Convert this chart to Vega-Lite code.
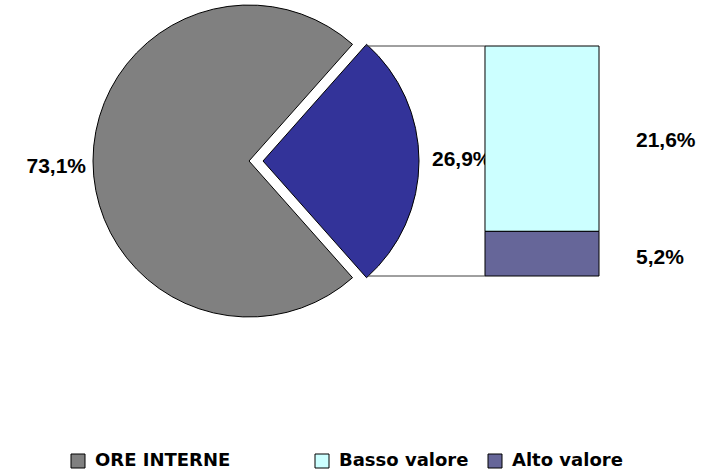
{
  "$schema": "https://vega.github.io/schema/vega-lite/v6.json",
  "width": 407,
  "height": 230,
  "autosize": {"type": "none"},
  "padding": {"left": 192, "top": 46, "right": 110, "bottom": 197},
  "background": "white",
  "config": {
    "view": {"stroke": null},
    "legend": {
      "padding": 0,
      "symbolType": "square",
      "symbolSize": 196,
      "symbolStrokeColor": "black",
      "symbolStrokeWidth": 1,
      "labelFont": "DejaVu Sans",
      "labelFontSize": 18,
      "labelFontWeight": "bold",
      "labelColor": "black",
      "labelOffset": 8,
      "labelLimit": 300
    }
  },
  "data": {
    "values": [
      {"group": "pie", "category": "ORE INTERNE", "value": 73.1, "label": "73,1%", "order": 2},
      {"group": "pie", "category": "Altro", "value": 26.9, "label": "26,9%", "order": 1},
      {"group": "bar", "category": "Basso valore", "value": 21.6, "label": "21,6%", "order": 2},
      {"group": "bar", "category": "Alto valore", "value": 5.2, "label": "5,2%", "order": 1}
    ]
  },
  "resolve": {"scale": {"color": "independent"}, "legend": {"color": "independent"}},
  "layer": [
    {
      "transform": [
        {"filter": "datum.group === 'pie'"},
        {"stack": "value", "groupby": ["group"], "sort": [{"field": "order", "order": "ascending"}], "as": ["t0", "t1"]}
      ],
      "layer": [
        {
          "transform": [{"filter": "datum.category === 'ORE INTERNE'"}],
          "mark": {"type": "arc", "radius": 156, "stroke": "black", "strokeWidth": 1},
          "encoding": {
            "x": {"field": "group", "type": "nominal", "bandPosition": 0.5, "axis": null,
                  "scale": {"type": "band", "domain": ["pie", "bar"], "paddingInner": 0.6109, "paddingOuter": 0}},
            "theta": {"field": "t0", "type": "quantitative",
                      "scale": {"type": "linear", "domain": [0, 100], "range": [0.7257, 7.0089]}},
            "theta2": {"field": "t1"},
            "color": {"field": "category", "type": "nominal",
                      "scale": {"domain": ["ORE INTERNE"], "range": ["#808080"]},
                      "legend": {"orient": "none", "legendX": -123, "legendY": 406, "title": null}}
          }
        },
        {
          "transform": [{"filter": "datum.category !== 'ORE INTERNE'"}],
          "mark": {"type": "arc", "radius": 156, "stroke": "black", "strokeWidth": 1, "fill": "#333399", "xOffset": 14},
          "encoding": {
            "x": {"field": "group", "type": "nominal", "bandPosition": 0.5, "axis": null,
                  "scale": {"type": "band", "domain": ["pie", "bar"], "paddingInner": 0.6109, "paddingOuter": 0}},
            "theta": {"field": "t0", "type": "quantitative",
                      "scale": {"type": "linear", "domain": [0, 100], "range": [0.7257, 7.0089]}},
            "theta2": {"field": "t1"}
          }
        },
        {
          "transform": [{"filter": "datum.category === 'ORE INTERNE'"}],
          "mark": {"type": "text", "align": "right", "baseline": "alphabetic", "dx": -163, "dy": 12,
                   "font": "Liberation Sans", "fontSize": 21, "fontWeight": "bold", "color": "black"},
          "encoding": {
            "x": {"field": "group", "type": "nominal", "bandPosition": 0.5, "axis": null,
                  "scale": {"type": "band", "domain": ["pie", "bar"], "paddingInner": 0.6109, "paddingOuter": 0}},
            "text": {"field": "label"}
          }
        },
        {
          "transform": [{"filter": "datum.category !== 'ORE INTERNE'"}],
          "mark": {"type": "text", "align": "left", "baseline": "alphabetic", "dx": 183, "dy": 5,
                   "font": "Liberation Sans", "fontSize": 21, "fontWeight": "bold", "color": "black"},
          "encoding": {
            "x": {"field": "group", "type": "nominal", "bandPosition": 0.5, "axis": null,
                  "scale": {"type": "band", "domain": ["pie", "bar"], "paddingInner": 0.6109, "paddingOuter": 0}},
            "text": {"field": "label"}
          }
        }
      ]
    },
    {
      "transform": [{"filter": "datum.group === 'bar'"}],
      "layer": [
        {
          "mark": {"type": "bar", "stroke": "black", "strokeWidth": 1},
          "encoding": {
            "x": {"field": "group", "type": "nominal", "axis": null,
                  "scale": {"type": "band", "domain": ["pie", "bar"], "paddingInner": 0.6109, "paddingOuter": 0}},
            "y": {"field": "value", "type": "quantitative", "stack": "zero", "axis": null,
                  "scale": {"domain": [0, 26.8], "nice": false}},
            "order": {"field": "order", "type": "quantitative"},
            "color": {"field": "category", "type": "nominal",
                      "scale": {"domain": ["Basso valore", "Alto valore"], "range": ["#CCFFFF", "#666699"]},
                      "legend": {"orient": "none", "legendX": 121, "legendY": 406, "title": null,
                                 "direction": "horizontal", "columnPadding": 17}}
          }
        },
        {
          "transform": [{"filter": "datum.category === 'Basso valore'"}],
          "mark": {"type": "text", "align": "left", "baseline": "alphabetic", "dx": 37, "dy": 56,
                   "font": "Liberation Sans", "fontSize": 21, "fontWeight": "bold", "color": "black"},
          "encoding": {
            "x": {"field": "group", "type": "nominal", "bandPosition": 1, "axis": null,
                  "scale": {"type": "band", "domain": ["pie", "bar"], "paddingInner": 0.6109, "paddingOuter": 0}},
            "y": {"field": "value", "type": "quantitative", "stack": null},
            "text": {"field": "label"}
          }
        },
        {
          "transform": [{"filter": "datum.category === 'Alto valore'"}],
          "mark": {"type": "text", "align": "left", "baseline": "alphabetic", "dx": 37, "dy": 33,
                   "font": "Liberation Sans", "fontSize": 21, "fontWeight": "bold", "color": "black"},
          "encoding": {
            "x": {"field": "group", "type": "nominal", "bandPosition": 1, "axis": null,
                  "scale": {"type": "band", "domain": ["pie", "bar"], "paddingInner": 0.6109, "paddingOuter": 0}},
            "y": {"field": "value", "type": "quantitative", "stack": null},
            "text": {"field": "label"}
          }
        },
        {
          "transform": [{"aggregate": [{"op": "sum", "field": "value", "as": "total"}]}],
          "mark": {"type": "rule", "color": "#404040", "strokeWidth": 1, "xOffset": 116},
          "encoding": {
            "x": {"datum": "pie", "type": "nominal", "bandPosition": 0.5,
                  "scale": {"type": "band", "domain": ["pie", "bar"], "paddingInner": 0.6109, "paddingOuter": 0}},
            "x2": {"datum": "bar", "bandPosition": 0},
            "y": {"field": "total", "type": "quantitative"}
          }
        },
        {
          "transform": [{"aggregate": [{"op": "count", "as": "n"}]}],
          "mark": {"type": "rule", "color": "#404040", "strokeWidth": 1, "xOffset": 119},
          "encoding": {
            "x": {"datum": "pie", "type": "nominal", "bandPosition": 0.5,
                  "scale": {"type": "band", "domain": ["pie", "bar"], "paddingInner": 0.6109, "paddingOuter": 0}},
            "x2": {"datum": "bar", "bandPosition": 0},
            "y": {"datum": 0, "type": "quantitative"}
          }
        }
      ]
    }
  ]
}
